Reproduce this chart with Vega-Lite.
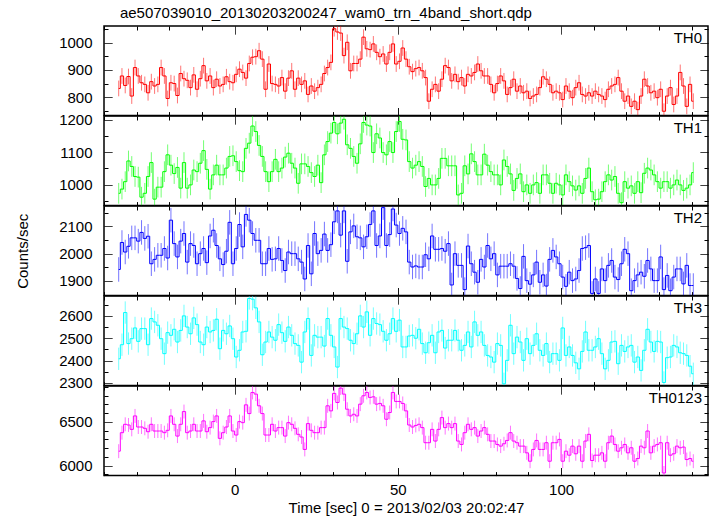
{
"$schema": "https://vega.github.io/schema/vega-lite/v6.json",
"background": "white",
"padding": {"left": 14, "top": 5, "right": 6, "bottom": 2},
"title": {"text": "ae507039010_20130203200247_wam0_trn_4band_short.qdp", "anchor": "start", "font": "Liberation Sans", "fontSize": 15, "fontWeight": "normal", "color": "black", "offset": 1, "dx": 105},
"config": {
  "font": "Liberation Sans",
  "view": {"stroke": "black", "strokeWidth": 1.5},
  "axis": {"labelFont": "Liberation Sans", "labelFontSize": 15, "labelColor": "black", "titleFont": "Liberation Sans", "titleFontSize": 15, "titleFontWeight": "normal", "titleColor": "black", "grid": false, "domain": false, "tickColor": "black", "tickWidth": 1, "tickSize": -8, "labelOverlap": false, "labelFlush": false, "minExtent": 0, "offset": 0, "format": "d"}
},
"datasets": {
"errs": [{"band":"TH0","err":29},{"band":"TH1","err":32},{"band":"TH2","err":45},{"band":"TH3","err":50},{"band":"TH0123","err":80}],
"rates": [
{"t":-35.5,"TH0":832,"TH1":973,"TH2":1942,"TH3":2408,"TH0123":6165},
{"t":-34.5,"TH0":878,"TH1":986,"TH2":2041,"TH3":2471,"TH0123":6377},
{"t":-33.5,"TH0":843,"TH1":1009,"TH2":2006,"TH3":2615,"TH0123":6473},
{"t":-32.5,"TH0":876,"TH1":1073,"TH2":2027,"TH3":2476,"TH0123":6465},
{"t":-31.5,"TH0":804,"TH1":1056,"TH2":2058,"TH3":2498,"TH0123":6415},
{"t":-30.5,"TH0":909,"TH1":1025,"TH2":2058,"TH3":2546,"TH0123":6569},
{"t":-29.5,"TH0":878,"TH1":1023,"TH2":2046,"TH3":2486,"TH0123":6442},
{"t":-28.5,"TH0":853,"TH1":961,"TH2":2078,"TH3":2543,"TH0123":6442},
{"t":-27.5,"TH0":847,"TH1":973,"TH2":2056,"TH3":2543,"TH0123":6427},
{"t":-26.5,"TH0":816,"TH1":1025,"TH2":2064,"TH3":2471,"TH0123":6388},
{"t":-25.5,"TH0":857,"TH1":1068,"TH2":1963,"TH3":2588,"TH0123":6473},
{"t":-24.5,"TH0":841,"TH1":955,"TH2":1979,"TH3":2573,"TH0123":6396},
{"t":-23.5,"TH0":847,"TH1":992,"TH2":1994,"TH3":2558,"TH0123":6396},
{"t":-22.5,"TH0":909,"TH1":992,"TH2":1994,"TH3":2498,"TH0123":6396},
{"t":-21.5,"TH0":878,"TH1":1040,"TH2":2019,"TH3":2431,"TH0123":6377},
{"t":-20.5,"TH0":795,"TH1":1092,"TH2":1984,"TH3":2525,"TH0123":6404},
{"t":-19.5,"TH0":853,"TH1":1060,"TH2":2123,"TH3":2513,"TH0123":6569},
{"t":-18.5,"TH0":850,"TH1":1034,"TH2":2037,"TH3":2540,"TH0123":6473},
{"t":-17.5,"TH0":806,"TH1":1053,"TH2":1988,"TH3":2483,"TH0123":6338},
{"t":-16.5,"TH0":887,"TH1":989,"TH2":2046,"TH3":2535,"TH0123":6473},
{"t":-15.5,"TH0":868,"TH1":1068,"TH2":2074,"TH3":2600,"TH0123":6619},
{"t":-14.5,"TH0":862,"TH1":989,"TH2":1969,"TH3":2550,"TH0123":6377},
{"t":-13.5,"TH0":835,"TH1":999,"TH2":2037,"TH3":2520,"TH0123":6396},
{"t":-12.5,"TH0":882,"TH1":1045,"TH2":2030,"TH3":2591,"TH0123":6473},
{"t":-11.5,"TH0":829,"TH1":1040,"TH2":1963,"TH3":2561,"TH0123":6396},
{"t":-10.5,"TH0":868,"TH1":1066,"TH2":2000,"TH3":2483,"TH0123":6396},
{"t":-9.5,"TH0":916,"TH1":1105,"TH2":2019,"TH3":2471,"TH0123":6512},
{"t":-8.5,"TH0":860,"TH1":1047,"TH2":1967,"TH3":2550,"TH0123":6388},
{"t":-7.5,"TH0":878,"TH1":986,"TH2":2065,"TH3":2528,"TH0123":6435},
{"t":-6.5,"TH0":835,"TH1":1030,"TH2":2086,"TH3":2535,"TH0123":6504},
{"t":-5.5,"TH0":866,"TH1":1060,"TH2":2030,"TH3":2585,"TH0123":6569},
{"t":-4.5,"TH0":841,"TH1":1030,"TH2":1981,"TH3":2453,"TH0123":6312},
{"t":-3.5,"TH0":847,"TH1":1030,"TH2":1960,"TH3":2535,"TH0123":6377},
{"t":-2.5,"TH0":875,"TH1":1051,"TH2":2009,"TH3":2520,"TH0123":6442},
{"t":-1.5,"TH0":857,"TH1":1087,"TH2":2115,"TH3":2555,"TH0123":6569},
{"t":-0.5,"TH0":853,"TH1":1089,"TH2":1963,"TH3":2498,"TH0123":6396},
{"t":0.5,"TH0":884,"TH1":1071,"TH2":2019,"TH3":2416,"TH0123":6350},
{"t":1.5,"TH0":903,"TH1":1043,"TH2":2107,"TH3":2446,"TH0123":6504},
{"t":2.5,"TH0":891,"TH1":1040,"TH2":2025,"TH3":2528,"TH0123":6492},
{"t":3.5,"TH0":870,"TH1":1112,"TH2":2144,"TH3":2531,"TH0123":6696},
{"t":4.5,"TH0":924,"TH1":1128,"TH2":2123,"TH3":2678,"TH0123":6596},
{"t":5.5,"TH0":947,"TH1":1181,"TH2":2074,"TH3":2675,"TH0123":6838},
{"t":6.5,"TH0":949,"TH1":1164,"TH2":2049,"TH3":2636,"TH0123":6819},
{"t":7.5,"TH0":971,"TH1":1121,"TH2":2049,"TH3":2573,"TH0123":6685},
{"t":8.5,"TH0":940,"TH1":1087,"TH2":1963,"TH3":2426,"TH0123":6596},
{"t":9.5,"TH0":829,"TH1":1040,"TH2":1963,"TH3":2483,"TH0123":6350},
{"t":10.5,"TH0":922,"TH1":1009,"TH2":2019,"TH3":2528,"TH0123":6350},
{"t":11.5,"TH0":850,"TH1":1040,"TH2":1979,"TH3":2505,"TH0123":6473},
{"t":12.5,"TH0":847,"TH1":1078,"TH2":1981,"TH3":2491,"TH0123":6396},
{"t":13.5,"TH0":841,"TH1":1040,"TH2":2019,"TH3":2561,"TH0123":6435},
{"t":14.5,"TH0":872,"TH1":1051,"TH2":1975,"TH3":2525,"TH0123":6435},
{"t":15.5,"TH0":822,"TH1":1085,"TH2":1938,"TH3":2486,"TH0123":6338},
{"t":16.5,"TH0":870,"TH1":1097,"TH2":2006,"TH3":2550,"TH0123":6492},
{"t":17.5,"TH0":897,"TH1":1066,"TH2":2000,"TH3":2513,"TH0123":6473},
{"t":18.5,"TH0":829,"TH1":1051,"TH2":2000,"TH3":2476,"TH0123":6427},
{"t":19.5,"TH0":870,"TH1":1004,"TH2":1981,"TH3":2468,"TH0123":6358},
{"t":20.5,"TH0":847,"TH1":1064,"TH2":1969,"TH3":2393,"TH0123":6327},
{"t":21.5,"TH0":860,"TH1":1064,"TH2":1907,"TH3":2528,"TH0123":6185},
{"t":22.5,"TH0":810,"TH1":1056,"TH2":2030,"TH3":2588,"TH0123":6481},
{"t":23.5,"TH0":841,"TH1":1037,"TH2":1926,"TH3":2423,"TH0123":6404},
{"t":24.5,"TH0":822,"TH1":1025,"TH2":2074,"TH3":2513,"TH0123":6377},
{"t":25.5,"TH0":835,"TH1":1060,"TH2":2000,"TH3":2505,"TH0123":6377},
{"t":26.5,"TH0":847,"TH1":1006,"TH2":2012,"TH3":2505,"TH0123":6435},
{"t":27.5,"TH0":887,"TH1":1092,"TH2":2072,"TH3":2465,"TH0123":6435},
{"t":28.5,"TH0":909,"TH1":1133,"TH2":2012,"TH3":2588,"TH0123":6685},
{"t":29.5,"TH0":928,"TH1":1159,"TH2":2033,"TH3":2513,"TH0123":6627},
{"t":30.5,"TH0":1052,"TH1":1192,"TH2":2117,"TH3":2461,"TH0123":6827},
{"t":31.5,"TH0":1040,"TH1":1157,"TH2":2157,"TH3":2371,"TH0123":6723},
{"t":32.5,"TH0":1036,"TH1":1190,"TH2":2068,"TH3":2588,"TH0123":6888},
{"t":33.5,"TH0":953,"TH1":1202,"TH2":2157,"TH3":2550,"TH0123":6819},
{"t":34.5,"TH0":1002,"TH1":1123,"TH2":1972,"TH3":2543,"TH0123":6646},
{"t":35.5,"TH0":897,"TH1":1112,"TH2":2080,"TH3":2491,"TH0123":6569},
{"t":36.5,"TH0":924,"TH1":1087,"TH2":2102,"TH3":2476,"TH0123":6588},
{"t":37.5,"TH0":924,"TH1":1066,"TH2":2062,"TH3":2520,"TH0123":6569},
{"t":38.5,"TH0":940,"TH1":1126,"TH2":2058,"TH3":2600,"TH0123":6704},
{"t":39.5,"TH0":1021,"TH1":1192,"TH2":2025,"TH3":2550,"TH0123":6800},
{"t":40.5,"TH0":978,"TH1":1184,"TH2":2062,"TH3":2618,"TH0123":6838},
{"t":41.5,"TH0":975,"TH1":1181,"TH2":2107,"TH3":2513,"TH0123":6781},
{"t":42.5,"TH0":996,"TH1":1099,"TH2":2157,"TH3":2588,"TH0123":6788},
{"t":43.5,"TH0":965,"TH1":1157,"TH2":2030,"TH3":2566,"TH0123":6704},
{"t":44.5,"TH0":949,"TH1":1144,"TH2":2065,"TH3":2561,"TH0123":6712},
{"t":45.5,"TH0":959,"TH1":1099,"TH2":2169,"TH3":2531,"TH0123":6685},
{"t":46.5,"TH0":922,"TH1":1092,"TH2":2030,"TH3":2491,"TH0123":6531},
{"t":47.5,"TH0":965,"TH1":1133,"TH2":2070,"TH3":2520,"TH0123":6608},
{"t":48.5,"TH0":996,"TH1":1099,"TH2":2164,"TH3":2588,"TH0123":6838},
{"t":49.5,"TH0":922,"TH1":1164,"TH2":2105,"TH3":2531,"TH0123":6735},
{"t":50.5,"TH0":932,"TH1":1195,"TH2":2074,"TH3":2581,"TH0123":6735},
{"t":51.5,"TH0":981,"TH1":1140,"TH2":2093,"TH3":2461,"TH0123":6712},
{"t":52.5,"TH0":940,"TH1":1138,"TH2":2080,"TH3":2461,"TH0123":6627},
{"t":53.5,"TH0":912,"TH1":1071,"TH2":1969,"TH3":2510,"TH0123":6465},
{"t":54.5,"TH0":894,"TH1":1051,"TH2":1951,"TH3":2513,"TH0123":6442},
{"t":55.5,"TH0":905,"TH1":1060,"TH2":1955,"TH3":2500,"TH0123":6460},
{"t":56.5,"TH0":909,"TH1":1071,"TH2":1951,"TH3":2540,"TH0123":6473},
{"t":57.5,"TH0":897,"TH1":1056,"TH2":1951,"TH3":2476,"TH0123":6435},
{"t":58.5,"TH0":872,"TH1":994,"TH2":1996,"TH3":2435,"TH0123":6262},
{"t":59.5,"TH0":785,"TH1":1019,"TH2":1981,"TH3":2480,"TH0123":6262},
{"t":60.5,"TH0":829,"TH1":999,"TH2":2065,"TH3":2513,"TH0123":6415},
{"t":61.5,"TH0":847,"TH1":999,"TH2":2016,"TH3":2435,"TH0123":6281},
{"t":62.5,"TH0":822,"TH1":1019,"TH2":2016,"TH3":2528,"TH0123":6415},
{"t":63.5,"TH0":866,"TH1":1081,"TH2":2019,"TH3":2535,"TH0123":6550},
{"t":64.5,"TH0":916,"TH1":1081,"TH2":2009,"TH3":2456,"TH0123":6435},
{"t":65.5,"TH0":909,"TH1":1058,"TH2":2037,"TH3":2491,"TH0123":6481},
{"t":66.5,"TH0":860,"TH1":1058,"TH2":1885,"TH3":2491,"TH0123":6435},
{"t":67.5,"TH0":884,"TH1":1058,"TH2":2000,"TH3":2535,"TH0123":6481},
{"t":68.5,"TH0":857,"TH1":968,"TH2":1957,"TH3":2491,"TH0123":6281},
{"t":69.5,"TH0":872,"TH1":973,"TH2":1957,"TH3":2446,"TH0123":6242},
{"t":70.5,"TH0":841,"TH1":1058,"TH2":1868,"TH3":2468,"TH0123":6377},
{"t":71.5,"TH0":884,"TH1":1033,"TH2":2028,"TH3":2528,"TH0123":6473},
{"t":72.5,"TH0":878,"TH1":1095,"TH2":1963,"TH3":2461,"TH0123":6415},
{"t":73.5,"TH0":891,"TH1":1071,"TH2":1932,"TH3":2573,"TH0123":6435},
{"t":74.5,"TH0":922,"TH1":1030,"TH2":1895,"TH3":2513,"TH0123":6338},
{"t":75.5,"TH0":897,"TH1":1030,"TH2":1979,"TH3":2528,"TH0123":6396},
{"t":76.5,"TH0":878,"TH1":1094,"TH2":1951,"TH3":2468,"TH0123":6435},
{"t":77.5,"TH0":878,"TH1":1060,"TH2":2030,"TH3":2423,"TH0123":6358},
{"t":78.5,"TH0":847,"TH1":1040,"TH2":1981,"TH3":2416,"TH0123":6281},
{"t":79.5,"TH0":816,"TH1":1030,"TH2":2000,"TH3":2393,"TH0123":6281},
{"t":80.5,"TH0":850,"TH1":1030,"TH2":1922,"TH3":2476,"TH0123":6242},
{"t":81.5,"TH0":878,"TH1":999,"TH2":1954,"TH3":2468,"TH0123":6223},
{"t":82.5,"TH0":860,"TH1":1076,"TH2":1954,"TH3":2296,"TH0123":6250},
{"t":83.5,"TH0":810,"TH1":1056,"TH2":1954,"TH3":2401,"TH0123":6288},
{"t":84.5,"TH0":835,"TH1":1033,"TH2":1963,"TH3":2558,"TH0123":6377},
{"t":85.5,"TH0":866,"TH1":982,"TH2":1954,"TH3":2431,"TH0123":6281},
{"t":86.5,"TH0":822,"TH1":1019,"TH2":1909,"TH3":2505,"TH0123":6262},
{"t":87.5,"TH0":841,"TH1":1033,"TH2":1872,"TH3":2483,"TH0123":6223},
{"t":88.5,"TH0":816,"TH1":978,"TH2":1990,"TH3":2401,"TH0123":6223},
{"t":89.5,"TH0":822,"TH1":999,"TH2":1901,"TH3":2498,"TH0123":6146},
{"t":90.5,"TH0":795,"TH1":973,"TH2":1888,"TH3":2431,"TH0123":6050},
{"t":91.5,"TH0":804,"TH1":999,"TH2":1922,"TH3":2468,"TH0123":6185},
{"t":92.5,"TH0":810,"TH1":1006,"TH2":1969,"TH3":2520,"TH0123":6288},
{"t":93.5,"TH0":835,"TH1":973,"TH2":1895,"TH3":2446,"TH0123":6185},
{"t":94.5,"TH0":875,"TH1":1030,"TH2":1922,"TH3":2423,"TH0123":6185},
{"t":95.5,"TH0":866,"TH1":1030,"TH2":1881,"TH3":2476,"TH0123":6262},
{"t":96.5,"TH0":847,"TH1":1004,"TH2":1979,"TH3":2393,"TH0123":6050},
{"t":97.5,"TH0":816,"TH1":973,"TH2":2012,"TH3":2431,"TH0123":6262},
{"t":98.5,"TH0":822,"TH1":1004,"TH2":1988,"TH3":2431,"TH0123":6262},
{"t":99.5,"TH0":816,"TH1":999,"TH2":1963,"TH3":2401,"TH0123":6300},
{"t":100.5,"TH0":791,"TH1":968,"TH2":1914,"TH3":2546,"TH0123":6050},
{"t":101.5,"TH0":841,"TH1":1030,"TH2":1880,"TH3":2423,"TH0123":6165},
{"t":102.5,"TH0":822,"TH1":1009,"TH2":1932,"TH3":2461,"TH0123":6119},
{"t":103.5,"TH0":798,"TH1":996,"TH2":1901,"TH3":2423,"TH0123":6223},
{"t":104.5,"TH0":835,"TH1":983,"TH2":1907,"TH3":2390,"TH0123":6135},
{"t":105.5,"TH0":853,"TH1":996,"TH2":1938,"TH3":2363,"TH0123":6223},
{"t":106.5,"TH0":810,"TH1":973,"TH2":2019,"TH3":2441,"TH0123":6050},
{"t":107.5,"TH0":804,"TH1":1019,"TH2":2022,"TH3":2528,"TH0123":6281},
{"t":108.5,"TH0":816,"TH1":1051,"TH2":2030,"TH3":2446,"TH0123":6358},
{"t":109.5,"TH0":804,"TH1":978,"TH2":1854,"TH3":2446,"TH0123":6058},
{"t":110.5,"TH0":822,"TH1":953,"TH2":1907,"TH3":2461,"TH0123":6119},
{"t":111.5,"TH0":810,"TH1":955,"TH2":1854,"TH3":2498,"TH0123":6119},
{"t":112.5,"TH0":804,"TH1":978,"TH2":1944,"TH3":2431,"TH0123":6146},
{"t":113.5,"TH0":791,"TH1":1009,"TH2":1901,"TH3":2363,"TH0123":6050},
{"t":114.5,"TH0":829,"TH1":1030,"TH2":1957,"TH3":2401,"TH0123":6262},
{"t":115.5,"TH0":841,"TH1":1014,"TH2":1975,"TH3":2483,"TH0123":6338},
{"t":116.5,"TH0":847,"TH1":1025,"TH2":1914,"TH3":2486,"TH0123":6242},
{"t":117.5,"TH0":872,"TH1":973,"TH2":1905,"TH3":2386,"TH0123":6165},
{"t":118.5,"TH0":822,"TH1":944,"TH2":1963,"TH3":2468,"TH0123":6204},
{"t":119.5,"TH0":785,"TH1":1009,"TH2":2016,"TH3":2441,"TH0123":6242},
{"t":120.5,"TH0":804,"TH1":989,"TH2":2000,"TH3":2461,"TH0123":6146},
{"t":121.5,"TH0":766,"TH1":996,"TH2":1864,"TH3":2468,"TH0123":6204},
{"t":122.5,"TH0":785,"TH1":973,"TH2":1901,"TH3":2393,"TH0123":6050},
{"t":123.5,"TH0":754,"TH1":1009,"TH2":1922,"TH3":2416,"TH0123":6081},
{"t":124.5,"TH0":804,"TH1":975,"TH2":1932,"TH3":2356,"TH0123":6223},
{"t":125.5,"TH0":866,"TH1":1035,"TH2":1917,"TH3":2446,"TH0123":6204},
{"t":126.5,"TH0":841,"TH1":1051,"TH2":1975,"TH3":2540,"TH0123":6396},
{"t":127.5,"TH0":816,"TH1":1045,"TH2":1944,"TH3":2483,"TH0123":6146},
{"t":128.5,"TH0":822,"TH1":1030,"TH2":1901,"TH3":2441,"TH0123":6223},
{"t":129.5,"TH0":798,"TH1":1009,"TH2":1901,"TH3":2486,"TH0123":6242},
{"t":130.5,"TH0":829,"TH1":989,"TH2":1988,"TH3":2483,"TH0123":6262},
{"t":131.5,"TH0":748,"TH1":1009,"TH2":1868,"TH3":2302,"TH0123":5915},
{"t":132.5,"TH0":804,"TH1":1009,"TH2":1920,"TH3":2413,"TH0123":6262},
{"t":133.5,"TH0":835,"TH1":989,"TH2":1864,"TH3":2416,"TH0123":6119},
{"t":134.5,"TH0":773,"TH1":999,"TH2":1914,"TH3":2468,"TH0123":6135},
{"t":135.5,"TH0":804,"TH1":1014,"TH2":1944,"TH3":2461,"TH0123":6223},
{"t":136.5,"TH0":891,"TH1":999,"TH2":1944,"TH3":2435,"TH0123":6204},
{"t":137.5,"TH0":841,"TH1":982,"TH2":1889,"TH3":2431,"TH0123":6212},
{"t":138.5,"TH0":766,"TH1":989,"TH2":1957,"TH3":2423,"TH0123":6069},
{"t":139.5,"TH0":847,"TH1":999,"TH2":1883,"TH3":2375,"TH0123":6081},
{"t":140.5,"TH0":785,"TH1":1037,"TH2":1883,"TH3":2341,"TH0123":6050}
]
},
"data": {"name": "rates"},
"transform": [
  {"fold": ["TH0", "TH1", "TH2", "TH3", "TH0123"], "as": ["band", "rate"]},
  {"lookup": "band", "from": {"data": {"name": "errs"}, "key": "band", "fields": ["err"]}}
],
"spacing": 0,
"bounds": "flush",
"resolve": {"scale": {"x": "shared", "y": "independent"}},
"vconcat": [
{
  "width": 604, "height": 89.6,
  "transform": [{"filter": "datum.band === 'TH0'"}],
  "layer": [
    {"mark": {"type": "errorbar", "color": "#ff0000", "opacity": 0.55, "thickness": 1, "clip": true},
     "encoding": {
       "x": {"field": "t", "type": "quantitative", "scale": {"domain": [-40, 145], "nice": false, "zero": false}, "axis": {"orient": "bottom", "values": [-40,-30,-20,-10,0,10,20,30,40,50,60,70,80,90,100,110,120,130,140], "labels": false, "title": null, "maxExtent": 0, "tickDash": {"condition": {"test": "datum.value % 50 !== 0", "value": [4, 30]}, "value": [1, 0]}}},
       "y": {"field": "rate", "type": "quantitative", "scale": {"domain": [732, 1062], "nice": false, "zero": false}, "axis": {"orient": "left", "values": [750,800,850,900,950,1000,1050], "labelExpr": "datum.value % 100 === 0 ? datum.label : ''", "labelPadding": 20, "title": null, "tickDash": {"condition": {"test": "datum.value % 100 !== 0", "value": [4, 30]}, "value": [1, 0]}}},
       "yError": {"field": "err"}
     }},
    {"mark": {"type": "line", "interpolate": "step", "color": "#ff0000", "strokeWidth": 1, "clip": true},
     "encoding": {
       "x": {"field": "t", "type": "quantitative", "scale": {"domain": [-40, 145], "nice": false, "zero": false}, "axis": {"orient": "top", "values": [-40,-30,-20,-10,0,10,20,30,40,50,60,70,80,90,100,110,120,130,140], "labels": false, "title": null, "maxExtent": 0, "tickDash": {"condition": {"test": "datum.value % 50 !== 0", "value": [4, 30]}, "value": [1, 0]}}},
       "y": {"field": "rate", "type": "quantitative", "scale": {"domain": [732, 1062], "nice": false, "zero": false}, "axis": {"orient": "right", "values": [750,800,850,900,950,1000,1050], "labels": false, "title": null, "maxExtent": 0, "tickDash": {"condition": {"test": "datum.value % 100 !== 0", "value": [4, 30]}, "value": [1, 0]}}}
     }},
    {"data": {"values": [{}]},
     "mark": {"type": "text", "text": "TH0", "align": "right", "baseline": "top", "dx": -6, "dy": 5, "fontSize": 15, "font": "Liberation Sans", "color": "black"},
     "encoding": {"x": {"datum": 145, "type": "quantitative", "axis": null}, "y": {"datum": 1062, "type": "quantitative", "axis": null}}}
  ],
  "resolve": {"axis": {"x": "independent", "y": "independent"}}
},
{
  "width": 604, "height": 89.6,
  "transform": [{"filter": "datum.band === 'TH1'"}],
  "layer": [
    {"mark": {"type": "errorbar", "color": "#00ff00", "opacity": 0.55, "thickness": 1, "clip": true},
     "encoding": {
       "x": {"field": "t", "type": "quantitative", "scale": {"domain": [-40, 145], "nice": false, "zero": false}, "axis": {"orient": "bottom", "values": [-40,-30,-20,-10,0,10,20,30,40,50,60,70,80,90,100,110,120,130,140], "labels": false, "title": null, "maxExtent": 0, "tickDash": {"condition": {"test": "datum.value % 50 !== 0", "value": [4, 30]}, "value": [1, 0]}}},
       "y": {"field": "rate", "type": "quantitative", "scale": {"domain": [935, 1212], "nice": false, "zero": false}, "axis": {"orient": "left", "values": [950,1000,1050,1100,1150,1200], "labelExpr": "datum.value % 100 === 0 ? datum.label : ''", "labelPadding": 20, "title": null, "tickDash": {"condition": {"test": "datum.value % 100 !== 0", "value": [4, 30]}, "value": [1, 0]}}},
       "yError": {"field": "err"}
     }},
    {"mark": {"type": "line", "interpolate": "step", "color": "#00ff00", "strokeWidth": 1, "clip": true},
     "encoding": {
       "x": {"field": "t", "type": "quantitative", "scale": {"domain": [-40, 145], "nice": false, "zero": false}, "axis": {"orient": "top", "values": [-40,-30,-20,-10,0,10,20,30,40,50,60,70,80,90,100,110,120,130,140], "labels": false, "title": null, "maxExtent": 0, "tickDash": {"condition": {"test": "datum.value % 50 !== 0", "value": [4, 30]}, "value": [1, 0]}}},
       "y": {"field": "rate", "type": "quantitative", "scale": {"domain": [935, 1212], "nice": false, "zero": false}, "axis": {"orient": "right", "values": [950,1000,1050,1100,1150,1200], "labels": false, "title": null, "maxExtent": 0, "tickDash": {"condition": {"test": "datum.value % 100 !== 0", "value": [4, 30]}, "value": [1, 0]}}}
     }},
    {"data": {"values": [{}]},
     "mark": {"type": "text", "text": "TH1", "align": "right", "baseline": "top", "dx": -6, "dy": 5, "fontSize": 15, "font": "Liberation Sans", "color": "black"},
     "encoding": {"x": {"datum": 145, "type": "quantitative", "axis": null}, "y": {"datum": 1212, "type": "quantitative", "axis": null}}}
  ],
  "resolve": {"axis": {"x": "independent", "y": "independent"}}
},
{
  "width": 604, "height": 89.6,
  "transform": [{"filter": "datum.band === 'TH2'"}],
  "layer": [
    {"mark": {"type": "errorbar", "color": "#0000ff", "opacity": 0.55, "thickness": 1, "clip": true},
     "encoding": {
       "x": {"field": "t", "type": "quantitative", "scale": {"domain": [-40, 145], "nice": false, "zero": false}, "axis": {"orient": "bottom", "values": [-40,-30,-20,-10,0,10,20,30,40,50,60,70,80,90,100,110,120,130,140], "labels": false, "title": null, "maxExtent": 0, "tickDash": {"condition": {"test": "datum.value % 50 !== 0", "value": [4, 30]}, "value": [1, 0]}}},
       "y": {"field": "rate", "type": "quantitative", "scale": {"domain": [1846, 2175], "nice": false, "zero": false}, "axis": {"orient": "left", "values": [1850,1900,1950,2000,2050,2100,2150], "labelExpr": "datum.value % 100 === 0 ? datum.label : ''", "labelPadding": 20, "title": "Counts/sec", "titlePadding": 28, "tickDash": {"condition": {"test": "datum.value % 100 !== 0", "value": [4, 30]}, "value": [1, 0]}}},
       "yError": {"field": "err"}
     }},
    {"mark": {"type": "line", "interpolate": "step", "color": "#0000ff", "strokeWidth": 1, "clip": true},
     "encoding": {
       "x": {"field": "t", "type": "quantitative", "scale": {"domain": [-40, 145], "nice": false, "zero": false}, "axis": {"orient": "top", "values": [-40,-30,-20,-10,0,10,20,30,40,50,60,70,80,90,100,110,120,130,140], "labels": false, "title": null, "maxExtent": 0, "tickDash": {"condition": {"test": "datum.value % 50 !== 0", "value": [4, 30]}, "value": [1, 0]}}},
       "y": {"field": "rate", "type": "quantitative", "scale": {"domain": [1846, 2175], "nice": false, "zero": false}, "axis": {"orient": "right", "values": [1850,1900,1950,2000,2050,2100,2150], "labels": false, "title": null, "maxExtent": 0, "tickDash": {"condition": {"test": "datum.value % 100 !== 0", "value": [4, 30]}, "value": [1, 0]}}}
     }},
    {"data": {"values": [{}]},
     "mark": {"type": "text", "text": "TH2", "align": "right", "baseline": "top", "dx": -6, "dy": 5, "fontSize": 15, "font": "Liberation Sans", "color": "black"},
     "encoding": {"x": {"datum": 145, "type": "quantitative", "axis": null}, "y": {"datum": 2175, "type": "quantitative", "axis": null}}}
  ],
  "resolve": {"axis": {"x": "independent", "y": "independent"}}
},
{
  "width": 604, "height": 89.6,
  "transform": [{"filter": "datum.band === 'TH3'"}],
  "layer": [
    {"mark": {"type": "errorbar", "color": "#00ffff", "opacity": 0.55, "thickness": 1, "clip": true},
     "encoding": {
       "x": {"field": "t", "type": "quantitative", "scale": {"domain": [-40, 145], "nice": false, "zero": false}, "axis": {"orient": "bottom", "values": [-40,-30,-20,-10,0,10,20,30,40,50,60,70,80,90,100,110,120,130,140], "labels": false, "title": null, "maxExtent": 0, "tickDash": {"condition": {"test": "datum.value % 50 !== 0", "value": [4, 30]}, "value": [1, 0]}}},
       "y": {"field": "rate", "type": "quantitative", "scale": {"domain": [2288, 2689], "nice": false, "zero": false}, "axis": {"orient": "left", "values": [2300,2350,2400,2450,2500,2550,2600,2650], "labelExpr": "datum.value % 100 === 0 ? datum.label : ''", "labelPadding": 20, "title": null, "tickDash": {"condition": {"test": "datum.value % 100 !== 0", "value": [4, 30]}, "value": [1, 0]}}},
       "yError": {"field": "err"}
     }},
    {"mark": {"type": "line", "interpolate": "step", "color": "#00ffff", "strokeWidth": 1, "clip": true},
     "encoding": {
       "x": {"field": "t", "type": "quantitative", "scale": {"domain": [-40, 145], "nice": false, "zero": false}, "axis": {"orient": "top", "values": [-40,-30,-20,-10,0,10,20,30,40,50,60,70,80,90,100,110,120,130,140], "labels": false, "title": null, "maxExtent": 0, "tickDash": {"condition": {"test": "datum.value % 50 !== 0", "value": [4, 30]}, "value": [1, 0]}}},
       "y": {"field": "rate", "type": "quantitative", "scale": {"domain": [2288, 2689], "nice": false, "zero": false}, "axis": {"orient": "right", "values": [2300,2350,2400,2450,2500,2550,2600,2650], "labels": false, "title": null, "maxExtent": 0, "tickDash": {"condition": {"test": "datum.value % 100 !== 0", "value": [4, 30]}, "value": [1, 0]}}}
     }},
    {"data": {"values": [{}]},
     "mark": {"type": "text", "text": "TH3", "align": "right", "baseline": "top", "dx": -6, "dy": 5, "fontSize": 15, "font": "Liberation Sans", "color": "black"},
     "encoding": {"x": {"datum": 145, "type": "quantitative", "axis": null}, "y": {"datum": 2689, "type": "quantitative", "axis": null}}}
  ],
  "resolve": {"axis": {"x": "independent", "y": "independent"}}
},
{
  "width": 604, "height": 89.6,
  "transform": [{"filter": "datum.band === 'TH0123'"}],
  "layer": [
    {"mark": {"type": "errorbar", "color": "#ff00ff", "opacity": 0.55, "thickness": 1, "clip": true},
     "encoding": {
       "x": {"field": "t", "type": "quantitative", "scale": {"domain": [-40, 145], "nice": false, "zero": false}, "axis": {"orient": "bottom", "values": [-40,-30,-20,-10,0,10,20,30,40,50,60,70,80,90,100,110,120,130,140], "labelExpr": "datum.value % 50 === 0 ? datum.label : ''", "labelPadding": 15, "title": "Time [sec] 0 = 2013/02/03 20:02:47", "titlePadding": 3, "tickDash": {"condition": {"test": "datum.value % 50 !== 0", "value": [4, 30]}, "value": [1, 0]}}},
       "y": {"field": "rate", "type": "quantitative", "scale": {"domain": [5885, 6912], "nice": false, "zero": false}, "axis": {"orient": "left", "values": [5900,6000,6100,6200,6300,6400,6500,6600,6700,6800,6900], "labelExpr": "datum.value % 500 === 0 ? datum.label : ''", "labelPadding": 20, "title": null, "tickDash": {"condition": {"test": "datum.value % 500 !== 0", "value": [4, 30]}, "value": [1, 0]}}},
       "yError": {"field": "err"}
     }},
    {"mark": {"type": "line", "interpolate": "step", "color": "#ff00ff", "strokeWidth": 1, "clip": true},
     "encoding": {
       "x": {"field": "t", "type": "quantitative", "scale": {"domain": [-40, 145], "nice": false, "zero": false}, "axis": {"orient": "top", "values": [-40,-30,-20,-10,0,10,20,30,40,50,60,70,80,90,100,110,120,130,140], "labels": false, "title": null, "maxExtent": 0, "tickDash": {"condition": {"test": "datum.value % 50 !== 0", "value": [4, 30]}, "value": [1, 0]}}},
       "y": {"field": "rate", "type": "quantitative", "scale": {"domain": [5885, 6912], "nice": false, "zero": false}, "axis": {"orient": "right", "values": [5900,6000,6100,6200,6300,6400,6500,6600,6700,6800,6900], "labels": false, "title": null, "maxExtent": 0, "tickDash": {"condition": {"test": "datum.value % 500 !== 0", "value": [4, 30]}, "value": [1, 0]}}}
     }},
    {"data": {"values": [{}]},
     "mark": {"type": "text", "text": "TH0123", "align": "right", "baseline": "top", "dx": -6, "dy": 5, "fontSize": 15, "font": "Liberation Sans", "color": "black"},
     "encoding": {"x": {"datum": 145, "type": "quantitative", "axis": null}, "y": {"datum": 6912, "type": "quantitative", "axis": null}}}
  ],
  "resolve": {"axis": {"x": "independent", "y": "independent"}}
}
]
}
